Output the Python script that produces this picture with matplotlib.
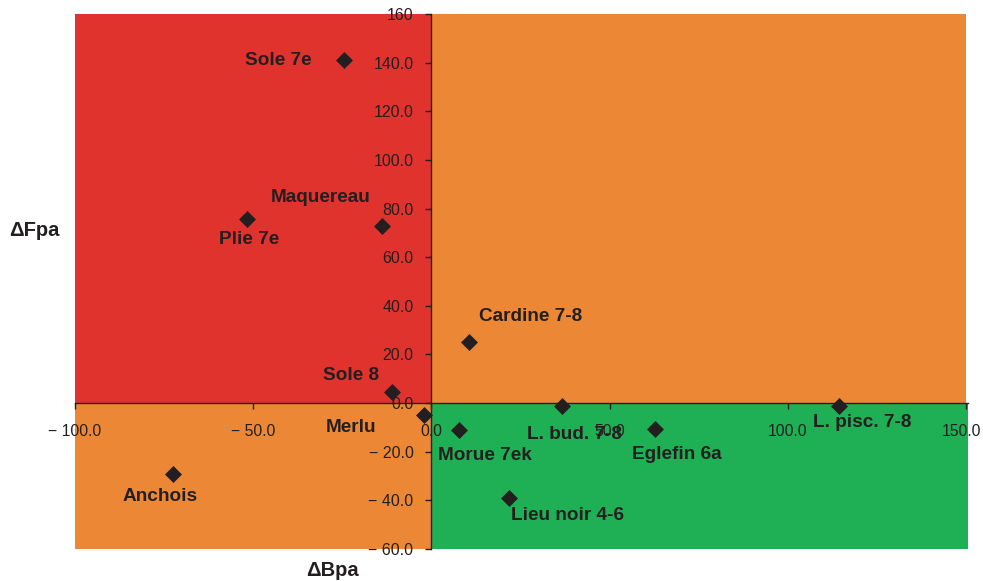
import matplotlib
matplotlib.use("Agg")
import matplotlib.pyplot as plt
from matplotlib.transforms import ScaledTranslation

plt.rcParams["font.family"] = ["Liberation Sans", "DejaVu Sans"]

# stocks: change in biomass vs precautionary level (x), change in F vs Fpa (y)
stocks = ["Sole 7e", "Maquereau", "Plie 7e", "Cardine 7-8", "Sole 8", "Merlu",
          "Morue 7ek", "L. bud. 7-8", "Eglefin 6a", "L. pisc. 7-8", "Anchois",
          "Lieu noir 4-6"]
delta_bpa = [-24.6, -14.0, -51.8, 10.6, -11.0, -2.0, 7.6, 36.7, 62.7, 114.2, -72.5, 21.8]
delta_fpa = [141.0, 73.0, 75.7, 25.0, 4.5, -4.8, -11.0, -1.0, -10.7, -1.0, -29.0, -39.0]

x_ticks = [-100, -50, 0, 50, 100, 150]
x_tick_labels = ["\u2212 100.0", "\u2212 50.0", "0.0", "50.0", "100.0", "150.0"]
y_ticks = [-60, -40, -20, 0, 20, 40, 60, 80, 100, 120, 140, 160]
y_tick_labels = ["\u2212 60.0", "\u2212 40.0", "\u2212 20.0", "0.0", "20.0", "40.0",
                 "60.0", "80.0", "100.0", "120.0", "140.0", "160"]

# label offsets in pixels from each point
label_offsets = [(-65, 0), (-61, 28), (2, -20), (61, 26), (-41, 17), (-73, -13),
                 (26, -26), (12, -29), (22, -25), (24, -17), (-13, -23), (58, -18)]

red = "#e0332e"
orange = "#ec8835"
green = "#1fb055"
ink = "#231f20"

fig = plt.figure(figsize=(9.83, 5.81), dpi=100)
ax = fig.add_axes([75 / 983, 1 - 549 / 581, 893 / 983, 535 / 581])
ax.set_facecolor("none")

x_lo, x_hi = x_ticks[0], x_ticks[-1]
y_lo, y_hi = y_ticks[0], y_ticks[-1]

# quadrant backgrounds
ax.fill_between([x_lo, 0], 0, y_hi, color=red, lw=0, zorder=0)
ax.fill_between([0, x_hi], 0, y_hi, color=orange, lw=0, zorder=0)
ax.fill_between([x_lo, 0], y_lo, 0, color=orange, lw=0, zorder=0)
ax.fill_between([0, x_hi + 0.5], y_lo, 0, color=green, lw=0, zorder=0)

ax.scatter(delta_bpa, delta_fpa, marker="D", s=75, color=ink, zorder=3, linewidths=0)

for name, x, y, off in zip(stocks, delta_bpa, delta_fpa, label_offsets):
    ax.annotate(name, (x, y), xytext=off, textcoords="offset pixels",
                ha="center", va="center", fontsize=13.7, fontweight="bold",
                color=ink, zorder=4)

ax.set_xlim(x_lo, x_hi + 0.5)
ax.set_ylim(y_lo, y_hi)

for side in ["top", "right"]:
    ax.spines[side].set_visible(False)
for side in ["left", "bottom"]:
    ax.spines[side].set_position(("data", 0))
    ax.spines[side].set_color(ink)
    ax.spines[side].set_linewidth(1.0)
    ax.spines[side].set_zorder(2)

ax.set_xticks(x_ticks)
ax.set_xticklabels(x_tick_labels)
ax.set_yticks(y_ticks)
ax.set_yticklabels(y_tick_labels)
ax.tick_params(axis="x", direction="out", length=4, width=1, color=ink,
               labelsize=11.3, labelcolor=ink, pad=11)
ax.tick_params(axis="y", direction="out", length=4, width=1, color=ink,
               labelsize=11.5, labelcolor=ink, pad=9)

# last x label sits a little left so it stays inside the figure
last = ax.get_xticklabels()[-1]
last.set_transform(last.get_transform() + ScaledTranslation(-5 / 100, 0, fig.dpi_scale_trans))

fig.text(34 / 983, 1 - 230 / 581, "\u0394Fpa", ha="center", va="center",
         fontsize=14.5, fontweight="bold", color=ink)
fig.text(332 / 983, 1 - 571 / 581, "\u0394Bpa", ha="center", va="center",
         fontsize=14.5, fontweight="bold", color=ink)

fig.savefig("out.png", dpi=100)
